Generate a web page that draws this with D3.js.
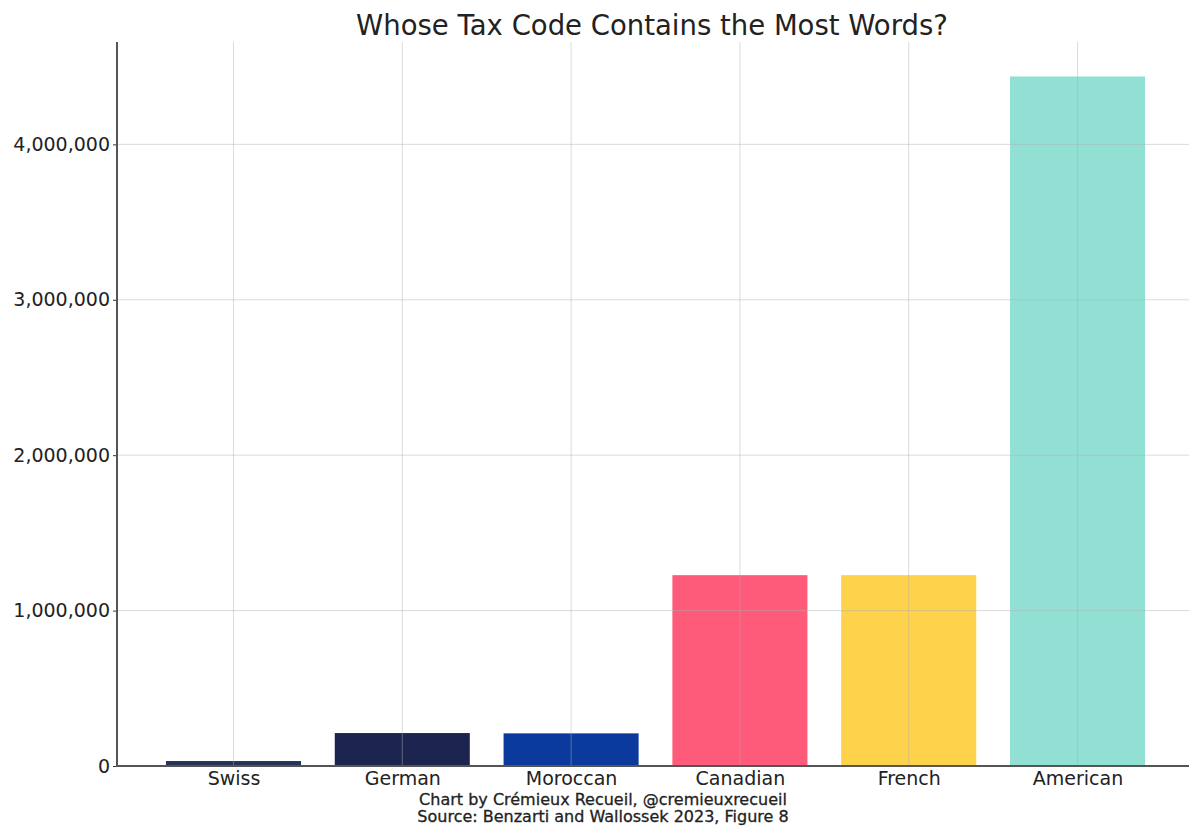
<!DOCTYPE html>
<html lang="en">
<head>
    <meta charset="UTF-8">
    <title>Whose Tax Code Contains the Most Words?</title>
    <script src="https://cdn.jsdelivr.net/npm/d3@7/dist/d3.min.js"></script>
    <style>
        body { margin: 0; background: #fff; }
        svg { display: block; font-family: "DejaVu Sans", sans-serif; }
        .grid line { stroke: #b0b0b0; stroke-opacity: 0.45; stroke-width: 1; }
        .spine { stroke: #555; stroke-width: 2; }
    </style>
</head>
<body>
<script>
    // chart values
    const countries = ['Swiss', 'German', 'Moroccan', 'Canadian', 'French', 'American'];
    const words = [32000, 212000, 210000, 1228000, 1228000, 4437000];
    const colors = ['#27345a', '#1c2550', '#0a3a9c', '#fe5b7a', '#fed24a', '#92e0d3'];
    const yTicks = [0, 1000000, 2000000, 3000000, 4000000];
    const captionLines = ['Chart by Crémieux Recueil, @cremieuxrecueil', 'Source: Benzarti and Wallossek 2023, Figure 8'];

    const width = 1189;
    const height = 829;
    const margin = { top: 42, right: -5, bottom: 63, left: 117 };
    const innerW = width - margin.left - margin.right;
    const innerH = height - margin.top - margin.bottom;

    const svg = d3.select('body')
        .append('svg')
        .attr('width', width)
        .attr('height', height);

    const g = svg.append('g')
        .attr('transform', `translate(${margin.left},${margin.top})`);

    // x as a linear scale like matplotlib bar positions
    const n = countries.length;
    const barW = 0.8;
    const pad = (n - 1 + barW) * 0.05;
    const x = d3.scaleLinear()
        .domain([-barW / 2 - pad, n - 1 + barW / 2 + pad])
        .range([0, innerW]);

    const y = d3.scaleLinear()
        .domain([0, d3.max(words) * 1.05])
        .range([innerH, 0]);

    // bars
    g.append('g')
        .selectAll('rect')
        .data(countries)
        .join('rect')
        .attr('x', (d, i) => x(i - barW / 2))
        .attr('width', (d, i) => x(i + barW / 2) - x(i - barW / 2))
        .attr('y', (d, i) => y(words[i]))
        .attr('height', (d, i) => y(0) - y(words[i]))
        .attr('fill', (d, i) => colors[i]);

    // grid on top, faint
    const grid = g.append('g').attr('class', 'grid');
    grid.selectAll('.h')
        .data(yTicks)
        .join('line')
        .attr('x1', 0).attr('x2', innerW)
        .attr('y1', d => y(d)).attr('y2', d => y(d));
    grid.selectAll('.v')
        .data(countries)
        .join('line')
        .attr('x1', (d, i) => x(i)).attr('x2', (d, i) => x(i))
        .attr('y1', 0).attr('y2', innerH);

    // axes
    const yAxis = g.append('g')
        .call(d3.axisLeft(y).tickValues(yTicks).tickFormat(d3.format(',')).tickSize(4).tickPadding(3));
    yAxis.select('.domain').remove();
    yAxis.selectAll('.tick line').attr('stroke', '#333');
    yAxis.selectAll('text').attr('font-size', 19).attr('fill', '#222').attr('font-family', '"DejaVu Sans", sans-serif');

    const xAxis = g.append('g')
        .attr('transform', `translate(0,${innerH})`)
        .call(d3.axisBottom(x).tickValues(d3.range(n)).tickFormat(i => countries[i]).tickSize(0).tickPadding(6));
    xAxis.select('.domain').remove();
    xAxis.selectAll('text').attr('font-size', 19).attr('fill', '#222').attr('font-family', '"DejaVu Sans", sans-serif');

    // spines
    g.append('line').attr('class', 'spine')
        .attr('x1', 0).attr('x2', 0).attr('y1', 0).attr('y2', innerH + 1);
    g.append('line').attr('class', 'spine')
        .attr('x1', -1).attr('x2', innerW).attr('y1', innerH).attr('y2', innerH);

    // title
    svg.append('text')
        .attr('x', 652)
        .attr('y', 35)
        .attr('text-anchor', 'middle')
        .attr('font-size', 27.5)
        .attr('fill', '#222')
        .text('Whose Tax Code Contains the Most Words?');

    // caption
    svg.append('g')
        .selectAll('text')
        .data(captionLines)
        .join('text')
        .attr('x', 603)
        .attr('y', (d, i) => 805 + i * 17)
        .attr('text-anchor', 'middle')
        .attr('font-size', 16)
        .attr('fill', '#222')
        .attr('stroke', '#222')
        .attr('stroke-width', 0.3)
        .text(d => d);
</script>
</body>
</html>
